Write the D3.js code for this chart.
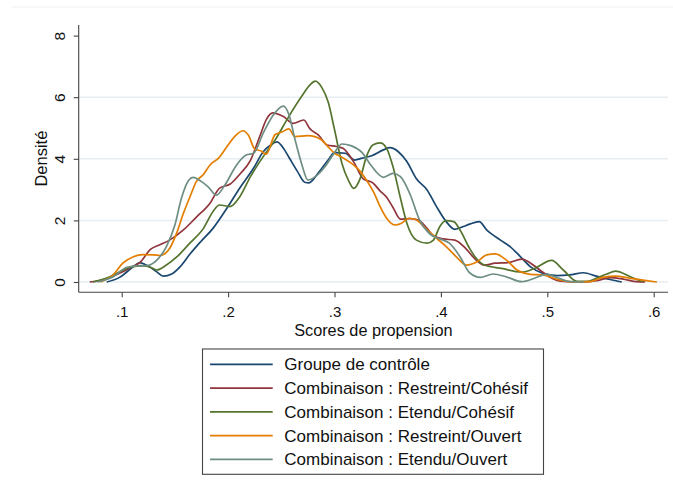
<!DOCTYPE html>
<html>
<head>
<meta charset="utf-8">
<script src="https://cdn.jsdelivr.net/npm/d3@7"></script>
<style>
  html, body { margin: 0; padding: 0; background: #fff; }
  svg { display: block; font-family: "Liberation Sans", Arial, sans-serif; }
</style>
</head>
<body>
<svg id="chart" width="673" height="492"></svg>
<script>
// Kernel density estimates of the propensity score, one per group.
// Each array holds [score, density] pairs.
const seriesNames = [
  "Groupe de contrôle",
  "Combinaison : Restreint/Cohésif",
  "Combinaison : Etendu/Cohésif",
  "Combinaison : Restreint/Ouvert",
  "Combinaison : Etendu/Ouvert"
];
const seriesColors = ["#1a476f", "#90353b", "#55752f", "#e37e00", "#6e8e84"];

const controle = [
  [.086,0],[.098,.15],[.111,.50],[.117,.63],[.123,.55],[.133,.33],[.139,.19],[.147,.26],
  [.155,.50],[.164,.90],[.174,1.30],[.186,1.75],[.199,2.40],[.211,3.05],[.224,3.70],
  [.233,4.23],[.240,4.45],[.246,4.55],[.253,4.29],[.258,4.00],[.265,3.60],[.272,3.24],
  [.276,3.22],[.285,3.55],[.294,3.96],[.300,4.20],[.310,4.18],[.319,3.96],[.326,4.02],
  [.335,4.10],[.346,4.29],[.352,4.36],[.360,4.23],[.368,3.91],[.377,3.35],[.387,2.99],
  [.396,2.44],[.405,1.96],[.413,1.71],[.421,1.80],[.427,1.88],[.436,1.96],[.443,1.69],
  [.456,1.36],[.465,1.15],[.474,.85],[.484,.50],[.496,.28],[.509,.21],[.521,.23],
  [.534,.30],[.546,.19],[.559,.08],[.570,0]
];
const restreintCohesif = [
  [.070,0],[.080,.05],[.089,.15],[.101,.33],[.110,.50],[.117,.63],[.127,1.06],[.136,1.21],
  [.145,1.36],[.158,1.69],[.170,2.10],[.183,2.56],[.192,3.05],[.202,3.18],[.211,3.50],
  [.221,3.95],[.230,4.75],[.236,5.28],[.242,5.49],[.252,5.37],[.261,5.15],[.271,5.26],
  [.277,4.97],[.285,4.77],[.293,4.45],[.302,4.40],[.308,4.34],[.318,3.90],[.327,3.35],
  [.336,3.22],[.343,2.95],[.349,2.75],[.355,2.42],[.362,2.04],[.371,2.06],[.379,2.01],
  [.387,1.74],[.393,1.50],[.402,1.40],[.413,1.36],[.423,1.10],[.432,.75],[.441,.55],
  [.451,.61],[.463,.63],[.476,.74],[.484,.62],[.493,.39],[.503,.15],[.515,.02],
  [.534,0],[.546,.04],[.559,.14],[.572,.09],[.584,.01],[.592,0]
];
const etenduCohesif = [
  [.073,0],[.089,.17],[.098,.33],[.108,.48],[.120,.52],[.127,.48],[.133,.39],[.142,.55],
  [.152,.82],[.164,1.26],[.177,1.75],[.186,2.30],[.192,2.50],[.202,2.45],[.211,2.77],
  [.221,3.42],[.233,4.07],[.244,4.60],[.257,5.37],[.269,6.02],[.277,6.40],[.282,6.52],
  [.288,6.32],[.294,5.85],[.300,4.95],[.307,3.85],[.313,3.31],[.318,3.04],[.324,3.35],
  [.330,4.07],[.336,4.45],[.343,4.52],[.349,4.34],[.355,3.74],[.362,2.72],[.368,1.91],
  [.377,1.36],[.387,1.26],[.393,1.36],[.399,1.80],[.405,1.99],[.412,1.96],[.418,1.69],
  [.427,1.09],[.432,.82],[.441,.55],[.457,.44],[.476,.32],[.488,.44],[.504,.70],
  [.515,.39],[.528,.02],[.537,.02],[.546,.12],[.556,.26],[.564,.35],[.578,.17],[.590,0]
];
const restreintOuvert = [
  [.080,0],[.092,.23],[.101,.61],[.111,.82],[.120,.89],[.130,.88],[.136,.86],[.145,1.09],
  [.152,1.62],[.158,2.23],[.164,2.75],[.170,3.25],[.177,3.50],[.183,3.80],[.191,4.02],
  [.200,4.45],[.207,4.75],[.214,4.91],[.219,4.77],[.225,4.32],[.231,4.25],[.236,4.15],
  [.244,4.78],[.250,4.86],[.257,4.97],[.263,4.72],[.275,4.75],[.288,4.61],[.294,4.39],
  [.300,4.18],[.307,4.05],[.316,3.85],[.324,3.60],[.330,3.31],[.337,2.90],[.343,2.44],
  [.349,2.07],[.357,1.85],[.363,1.91],[.370,2.07],[.377,2.01],[.387,1.69],[.396,1.42],
  [.405,1.15],[.415,.80],[.424,.55],[.434,.66],[.443,.88],[.451,.91],[.462,.70],
  [.472,.38],[.484,.25],[.496,.23],[.509,.09],[.524,0],[.540,.01],[.552,.15],
  [.564,.19],[.578,.12],[.590,.06],[.603,0]
];
const etenduOuvert = [
  [.077,0],[.092,.17],[.105,.48],[.117,.53],[.123,.53],[.133,.71],[.142,1.15],[.150,1.85],
  [.156,2.70],[.163,3.30],[.167,3.40],[.175,3.26],[.181,3.10],[.189,2.82],[.197,3.15],
  [.208,3.80],[.217,4.12],[.224,4.18],[.233,4.83],[.242,5.40],[.252,5.71],[.257,5.45],
  [.263,4.61],[.269,3.85],[.275,3.31],[.282,3.42],[.291,3.74],[.300,4.20],[.307,4.48],
  [.316,4.42],[.326,4.20],[.333,3.85],[.346,3.40],[.355,3.53],[.362,3.42],[.371,2.85],
  [.380,2.01],[.390,1.55],[.399,1.40],[.408,1.26],[.418,.82],[.427,.30],[.437,.15],
  [.449,.26],[.462,.16],[.476,.01],[.488,.12],[.499,.25],[.511,.12],[.521,.01],[.535,0]
];
const allSeries = [controle, restreintCohesif, etenduCohesif, restreintOuvert, etenduOuvert];

const xTicks = [0.1, 0.2, 0.3, 0.4, 0.5, 0.6];
const xTickLabels = [".1", ".2", ".3", ".4", ".5", ".6"];
const yTicks = [0, 2, 4, 6, 8];
const yGrid = [0, 2, 4, 6];

const svg = d3.select("#chart");

// plot region
const plotLeft = 78.7, plotRight = 668, plotTop = 25, plotBottom = 292.3;
const x = d3.scaleLinear().domain([0.1, 0.6]).range([121.7, 653.7]);
const y = d3.scaleLinear().domain([0, 8]).range([282, 35.6]);

// faint outer frame line along the top of the graph region
svg.append("line")
  .attr("x1", 12).attr("x2", 673).attr("y1", 7).attr("y2", 7)
  .attr("stroke", "#eef1f2").attr("stroke-width", 1.2);

// horizontal grid lines
svg.append("g").selectAll("line").data(yGrid).join("line")
  .attr("x1", plotLeft).attr("x2", plotRight)
  .attr("y1", d => y(d)).attr("y2", d => y(d))
  .attr("stroke", "#e6eef1").attr("stroke-width", 1.5);

// x axis
const xAxis = d3.axisBottom(x).tickValues(xTicks)
  .tickFormat((d, i) => xTickLabels[i]).tickSize(5).tickSizeOuter(0);
const gx = svg.append("g").attr("transform", `translate(0,${plotBottom})`).call(xAxis);
gx.select(".domain").remove();
gx.append("line").attr("x1", plotLeft).attr("x2", plotRight).attr("y1", 0).attr("y2", 0)
  .attr("stroke", "#444").attr("stroke-width", 1.1);
gx.selectAll(".tick line").attr("stroke", "#444").attr("stroke-width", 1.1);
gx.selectAll(".tick text")
  .attr("y", 25).attr("dy", null)
  .attr("fill", "#111").attr("font-size", 15)
  .attr("font-family", "'Liberation Sans', Arial, sans-serif");

// y axis with vertical tick labels
const yAxis = d3.axisLeft(y).tickValues(yTicks).tickSize(5).tickSizeOuter(0);
const gy = svg.append("g").attr("transform", `translate(${plotLeft},0)`).call(yAxis);
gy.select(".domain").remove();
gy.append("line").attr("x1", 0).attr("x2", 0).attr("y1", plotTop).attr("y2", plotBottom)
  .attr("stroke", "#444").attr("stroke-width", 1.1);
gy.selectAll(".tick line").attr("stroke", "#444").attr("stroke-width", 1.1);
gy.selectAll(".tick text")
  .attr("x", null).attr("dy", null)
  .attr("transform", "translate(-13.5,0) rotate(-90)")
  .attr("text-anchor", "middle")
  .attr("fill", "#111").attr("font-size", 15.5)
  .attr("font-family", "'Liberation Sans', Arial, sans-serif");

// axis titles
svg.append("text")
  .attr("x", (plotLeft + plotRight) / 2).attr("y", 336.3)
  .attr("text-anchor", "middle").attr("font-size", 16.3).attr("fill", "#111")
  .text("Scores de propension");
svg.append("text")
  .attr("transform", `translate(46.5,${(plotTop + plotBottom) / 2}) rotate(-90)`)
  .attr("text-anchor", "middle").attr("font-size", 16.5).attr("fill", "#111")
  .text("Densité");

// density curves
const line = d3.line()
  .x(d => x(d[0])).y(d => y(d[1]))
  .curve(d3.curveMonotoneX);
svg.append("g").selectAll("path").data(allSeries).join("path")
  .attr("d", line)
  .attr("fill", "none")
  .attr("stroke", (d, i) => seriesColors[i])
  .attr("stroke-width", 1.7)
  .attr("stroke-linejoin", "round");

// legend
const lg = svg.append("g");
lg.append("rect")
  .attr("x", 202.5).attr("y", 349).attr("width", 341).attr("height", 125.3)
  .attr("fill", "#fff").attr("stroke", "#444").attr("stroke-width", 1.1);
const rowY = i => 364.3 + i * 23.75;
const items = lg.selectAll("g.item").data(seriesNames).join("g").attr("class", "item");
items.append("line")
  .attr("x1", 210).attr("x2", 272.7)
  .attr("y1", (d, i) => rowY(i)).attr("y2", (d, i) => rowY(i))
  .attr("stroke", (d, i) => seriesColors[i]).attr("stroke-width", 1.7);
items.append("text")
  .attr("x", 284.3).attr("y", (d, i) => rowY(i) + 6)
  .attr("font-size", 17).attr("fill", "#111")
  .text(d => d);
</script>
</body>
</html>
